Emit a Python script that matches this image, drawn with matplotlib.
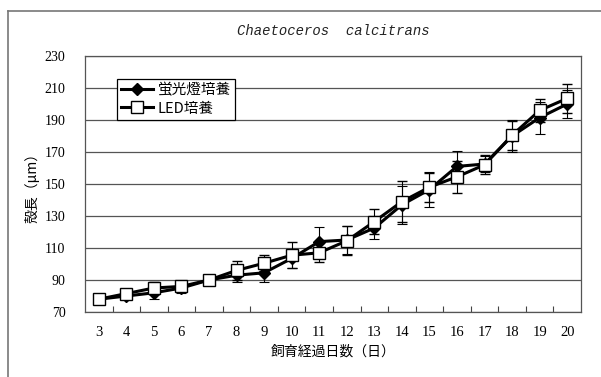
import matplotlib.pyplot as plt
from matplotlib.lines import Line2D

# 飼育日数と殻長の平均値・標準偏差
days = [3, 4, 5, 6, 7, 8, 9, 10, 11, 12, 13, 14, 15, 16, 17, 18, 19, 20]
fluor = [78, 80, 82, 85, 90, 93, 94.5, 103.5, 114, 115, 122.5, 137, 146.5, 161, 162.5, 180, 191.5, 200]
fluor_err = [2, 2, 4, 3, 2, 4, 6, 6, 9, 9, 7, 12, 11, 9.5, 5, 10, 10, 9]
led = [78, 81.5, 85, 86, 90, 96, 100.5, 105.5, 107, 114.5, 126.5, 139, 148, 154.5, 162, 180.5, 196, 203.5]
led_err = [3, 2, 3.5, 2, 2, 6, 5, 8, 6, 9, 8, 13, 9, 10, 6, 9, 7, 9]
yticks = [70, 90, 110, 130, 150, 170, 190, 210, 230]

jp = ['Noto Sans CJK JP', 'DejaVu Sans']
serif = 'Liberation Serif'

fig = plt.figure(figsize=(6.01, 3.77), dpi=100)
ax = fig.add_axes([0.1414, 0.1724, 0.8253, 0.6790])

# 外枠（左と上のみ見える）
fig.add_artist(Line2D([0.0133, 0.0133], [0, 0.9708], color='#777777', lw=1.2))
fig.add_artist(Line2D([0.0133, 1.0], [0.9708, 0.9708], color='#777777', lw=1.2))

x = list(range(len(days)))

fl_style = dict(color='black', lw=2.2, marker='D', ms=6, mfc='black', mec='black')
led_style = dict(color='black', lw=2.2, marker='s', ms=9, mfc='white', mec='black', mew=1.0)
err_style = dict(ecolor='black', elinewidth=0.8, capsize=3.5, capthick=0.8)

ax.errorbar(x, fluor, yerr=fluor_err, zorder=3, **fl_style, **err_style)
ax.errorbar(x, led, yerr=led_err, zorder=4, **led_style, **err_style)

ax.set_xlim(-0.5, len(days) - 0.5)
ax.set_ylim(70, 230)
ax.set_yticks(yticks)
ax.set_yticklabels([str(v) for v in yticks], fontfamily=serif, fontsize=10)
ax.set_xticks(x)
ax.set_xticklabels([str(d) for d in days], fontfamily=serif, fontsize=10.5)
ax.set_xticks([i + 0.5 for i in range(len(days) - 1)], minor=True)
ax.tick_params(axis='x', which='major', length=0, pad=10)
ax.tick_params(axis='x', which='minor', direction='in', length=4, width=0.8, color='#444444')
ax.tick_params(axis='y', length=0, pad=14)

ax.grid(axis='y', color='#555555', lw=0.9)
ax.set_axisbelow(True)
for s in ax.spines.values():
    s.set_color('#555555')
    s.set_linewidth(0.9)

ax.set_title('Chaetoceros  calcitrans', fontfamily='Liberation Mono', style='italic',
             fontsize=10, pad=15, color='#222222')
ax.set_xlabel('飼育経過日数（日）', fontfamily=jp, fontsize=10, labelpad=4)
ax.set_ylabel('殻長（μm）', fontfamily=jp, fontsize=10, labelpad=4)

# 凡例は線とマーカーのみ
handles = [Line2D([], [], **fl_style), Line2D([], [], **led_style)]
leg = ax.legend(handles, ['蛍光燈培養', 'LED培養'], loc='upper left',
                bbox_to_anchor=(0.064, 0.912), frameon=True,
                fancybox=False, framealpha=1, edgecolor='black', borderpad=0.3,
                handlelength=2.2, handletextpad=0.3, labelspacing=0.3,
                prop={'family': jp, 'size': 10.5}, borderaxespad=0)
leg.get_frame().set_linewidth(0.9)

fig.savefig('out.png', dpi=100)
